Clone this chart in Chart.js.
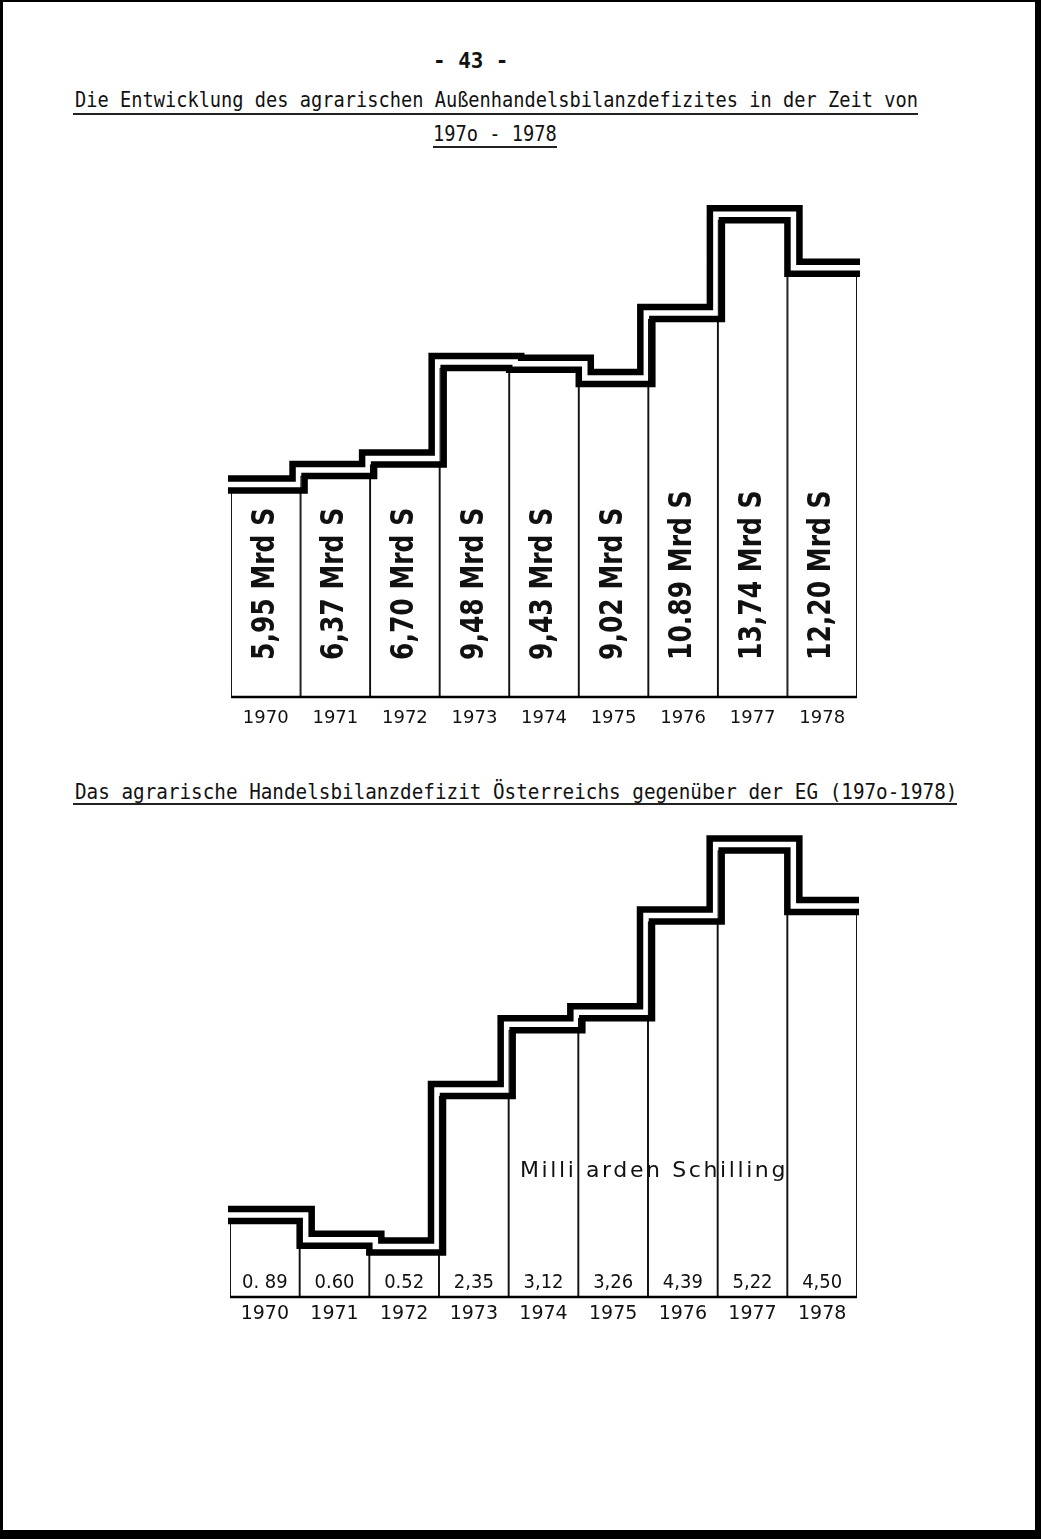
<!DOCTYPE html>
<html><head><meta charset="utf-8">
<script src="https://cdn.jsdelivr.net/npm/chart.js@4"></script>
<style>
html,body{margin:0;padding:0;background:#fff;}
#page{position:relative;width:1041px;height:1539px;overflow:hidden;background:#fff;}
.t{position:absolute;white-space:nowrap;font-family:"DejaVu Sans Mono";color:#111;transform-origin:0 0;line-height:1;}
.u{position:absolute;height:2px;background:#222;}
.f{position:absolute;background:#000;}
.c{position:absolute;}
#ms{position:absolute;left:520px;top:1159px;font-family:"DejaVu Sans";font-size:22px;letter-spacing:2.6px;color:#111;white-space:nowrap;z-index:5;line-height:1;}
</style></head><body>
<div id="page">
  <div class="f" style="left:0;top:0;width:1041px;height:2px"></div>
  <div class="f" style="left:0;top:0;width:3px;height:1539px"></div>
  <div class="f" style="left:1035px;top:0;width:6px;height:1539px"></div>
  <div class="f" style="left:0;top:1530px;width:1041px;height:9px"></div>

  <div class="t" id="pn" data-w="75" style="left:433px;top:50px;font-size:22px;font-weight:bold;">- 43 -</div>
  <div class="t" id="t1" data-w="843" data-sy="1.15" style="left:75px;top:89px;font-size:19px;">Die Entwicklung des agrarischen Außenhandelsbilanzdefizites in der Zeit von</div>
  <div class="u" style="left:73px;top:113px;width:845px;"></div>
  <div class="t" id="t1b" data-w="124" data-sy="1.15" style="left:433px;top:123px;font-size:19px;">197o - 1978</div>
  <div class="u" style="left:433px;top:146px;width:124px;"></div>
  <div class="t" id="t2" data-w="882" data-sy="1.15" style="left:75px;top:781px;font-size:19px;">Das agrarische Handelsbilanzdefizit Österreichs gegenüber der EG (197o-1978)</div>
  <div class="u" style="left:73px;top:803px;width:884px;"></div>

  <canvas class="c" id="c1" style="left:221px;top:180px;"></canvas>
  <canvas class="c" id="c2" style="left:220px;top:820px;"></canvas>
  <div id="ms">Milli arden Schilling</div>
</div>
<script>
// ---- data ----
const years = ['1970','1971','1972','1973','1974','1975','1976','1977','1978'];
const totalDeficit = [5.95, 6.37, 6.70, 9.48, 9.43, 9.02, 10.89, 13.74, 12.20];
const totalLabels = ['5,95 Mrd S','6,37 Mrd S','6,70 Mrd S','9,48 Mrd S','9,43 Mrd S','9,02 Mrd S','10.89 Mrd S','13,74 Mrd S','12,20 Mrd S'];
const ecDeficit = [0.89, 0.60, 0.52, 2.35, 3.12, 3.26, 4.39, 5.22, 4.50];
const ecLabels = ['0. 89','0.60','0.52','2,35','3,12','3,26','4,39','5,22','4,50'];

// fit typed title widths
document.querySelectorAll('.t').forEach(el=>{
  const w = parseFloat(el.dataset.w), sy = parseFloat(el.dataset.sy||'1');
  const sx = w / el.offsetWidth;
  el.style.transform = `scale(${sx},${sy})`;
});

const stairs = {
  id:'stairs',
  afterDatasetsDraw(chart, args, opts){
    const bars = chart.getDatasetMeta(0).data;
    const ctx = chart.ctx;
    const ca = chart.chartArea;
    const y0 = chart.scales.y.getPixelForValue(0);
    ctx.save();
    ctx.strokeStyle = '#000';
    ctx.lineWidth = opts.baseWidth;
    ctx.beginPath(); ctx.moveTo(ca.left, y0); ctx.lineTo(ca.right, y0); ctx.stroke();
    ctx.lineWidth = opts.lineWidth;
    ctx.lineJoin = 'miter'; ctx.lineCap = 'butt';
    const path = (off)=>{
      ctx.beginPath();
      const f = bars[0];
      ctx.moveTo(f.x - f.width/2 - opts.ext, f.y - off);
      for (let i=0;i<bars.length-1;i++){
        const a = bars[i], b = bars[i+1];
        const xb = (a.x + a.width/2 + b.x - b.width/2)/2;
        const rise = b.y < a.y;
        const xv = xb + (rise ? opts.shift - off : off);
        ctx.lineTo(xv, a.y - off);
        ctx.lineTo(xv, b.y - off);
      }
      const l = bars[bars.length-1];
      ctx.lineTo(l.x + l.width/2 + opts.ext, l.y - off);
      ctx.stroke();
    };
    path(0); path(opts.gap);
    ctx.restore();
  }
};

const barLabels = {
  id:'barLabels',
  afterDatasetsDraw(chart, args, opts){
    const bars = chart.getDatasetMeta(0).data;
    const ctx = chart.ctx;
    const y0 = chart.scales.y.getPixelForValue(0);
    ctx.save();
    ctx.fillStyle = '#111';
    ctx.font = opts.font;
    bars.forEach((b,i)=>{
      const txt = opts.labels[i];
      ctx.save();
      ctx.translate(b.x, y0 - opts.offset);
      if (opts.rotate){
        ctx.rotate(-Math.PI/2);
        ctx.scale(1, opts.stretch);
        ctx.textAlign = 'left';
      } else {
        ctx.scale(1, opts.stretch);
        ctx.textAlign = 'center';
      }
      ctx.textBaseline = 'middle';
      ctx.fillText(txt, 0, 0);
      ctx.restore();
    });
    ctx.restore();
  }
};

function makeChart(id, w, h, values, yMax, xAxisH, tickPad, tickSize, labelOpts, stairOpts, pad){
  const cv = document.getElementById(id);
  cv.width = w; cv.height = h;
  cv.style.width = w + 'px'; cv.style.height = h + 'px';
  return new Chart(cv, {
    type:'bar',
    data:{ labels: years, datasets:[{
      data: values, backgroundColor:'#fff', borderColor:'#111', borderWidth:1.3,
      barPercentage:1, categoryPercentage:1, borderSkipped:'bottom'
    }]},
    options:{
      responsive:false, animation:false, devicePixelRatio:1,
      layout:{ padding: pad },
      plugins:{ legend:{display:false}, tooltip:{enabled:false}, title:{display:false},
        stairs: stairOpts, barLabels: labelOpts },
      scales:{
        x:{ display:true, grid:{display:false, drawTicks:false}, border:{display:false},
            ticks:{ padding: tickPad, color:'#111', font:{family:'DejaVu Sans', size: tickSize}, maxRotation:0 },
            afterFit:(s)=>{ s.height = xAxisH; } },
        y:{ display:false, min:0, max:yMax }
      }
    },
    plugins:[stairs, barLabels]
  });
}

makeChart('c1', 646, 557, totalDeficit, 14.61, 40, 11, 18,
  { labels: totalLabels, rotate:true, font:'bold 25px "DejaVu Sans"', offset:37, stretch:1.25 },
  { lineWidth:6.5, gap:12, ext:3, shift:4, baseWidth:2.5 },
  { left:10, right:10, top:10, bottom:0 });

makeChart('c2', 647, 522, ecDeficit, 5.46, 45, 6, 19,
  { labels: ecLabels, rotate:false, font:'18px "DejaVu Sans"', offset:14, stretch:1.1 },
  { lineWidth:6.5, gap:12, ext:2, shift:4, baseWidth:2.5 },
  { left:10, right:10, top:10, bottom:0 });
</script>
</body></html>
